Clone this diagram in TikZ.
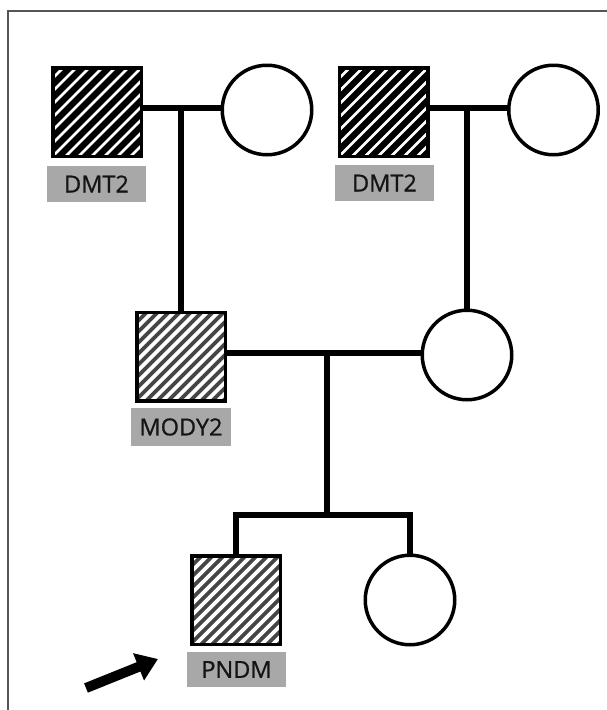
\documentclass[tikz,border=0pt]{standalone}
\usepackage{fontspec}
\setmainfont{Open Sans}
\newfontfamily\tagfont[FakeBold=0.8]{Open Sans}
\usetikzlibrary{arrows.meta}
\definecolor{labelgray}{HTML}{A8A8A8}
\definecolor{stripegray}{HTML}{454545}
\definecolor{framegray}{HTML}{555555}
\tikzset{
  person/.style={draw=black, line width=3.5pt, inner sep=0pt},
  male/.style={person, rectangle, minimum size=88.5pt},
  female/.style={person, circle, minimum size=89.5pt, fill=white},
  % diagonal hatching: #1 ground colour, #2 stripe width, #3 stripe period
  hatch/.style n args={3}{path picture={
    \fill[#1] (path picture bounding box.south west) rectangle (path picture bounding box.north east);
    \foreach \i in {-117,-\the\numexpr117-#3\relax,...,117}
      \draw[white, line width=#2] ([xshift=\i pt]path picture bounding box.south west) -- ++(130pt,130pt);
  }},
  dmtwo/.style={male, hatch={black}{2.8pt}{13}},
  monogenic/.style={male, hatch={stripegray}{3.8pt}{11}},
  tag/.style={fill=labelgray, minimum width=99pt, minimum height=36pt, inner sep=0pt,
    text=black!92, font=\tagfont\fontsize{23.5}{28}\selectfont},
  link/.style={line width=5.5pt, line cap=rect},
  pointer/.style={line width=10pt, -{Triangle[length=21pt, width=28pt]}}
}
\begin{document}
\begin{tikzpicture}[x=1pt, y=-1pt]
  \useasboundingbox (0,0) rectangle (607,710);
  \fill[white] (0,0) rectangle (607,710);
  \draw[framegray, line width=1.5pt] (8,710) -- (8,11) -- (607,11);

  % generation I
  \node[dmtwo]  (gf1) at (97,112)    {};
  \node[female] (gm1) at (267,110)   {};
  \node[dmtwo]  (gf2) at (383.5,112) {};
  \node[female] (gm2) at (553.5,110) {};
  \node[tag] (t1) at (96.5,184)  {DMT2};
  \node[tag] (t2) at (384.5,183) {DMT2};

  % generation II
  \node[monogenic] (fa) at (181,356.5) {};
  \node[female]    (mo) at (467,355)   {};
  \node[tag, minimum width=100pt, minimum height=38pt] (t3) at (181,427) {MODY2};

  % generation III
  \node[monogenic] (pr) at (236,600) {};
  \node[female]    (si) at (410,600) {};
  \node[tag, minimum height=35pt] (t4) at (236.5,669.5) {PNDM};

  % mating and descent lines
  \coordinate (m1) at (181,108);
  \coordinate (m2) at (467,108);
  \coordinate (m3) at (327,353);
  \coordinate (sib) at (327,515);
  \draw[link] (gf1.east |- m1) -- (gm1.west |- m1);
  \draw[link] (m1) -- (fa.north);
  \draw[link] (gf2.east |- m2) -- (gm2.west |- m2);
  \draw[link] (m2) -- (mo.north);
  \draw[link] (fa.east |- m3) -- (mo.west |- m3);
  \draw[link] (m3) -- (sib);
  \draw[link] (pr.north) -- (pr.north |- sib) -- (si.north |- sib) -- (si.north);

  % proband arrow
  \coordinate (atail) at (86,688);
  \coordinate (atip) at (158,659);
  \draw[pointer] (atail) -- (atip);
\end{tikzpicture}
\end{document}
